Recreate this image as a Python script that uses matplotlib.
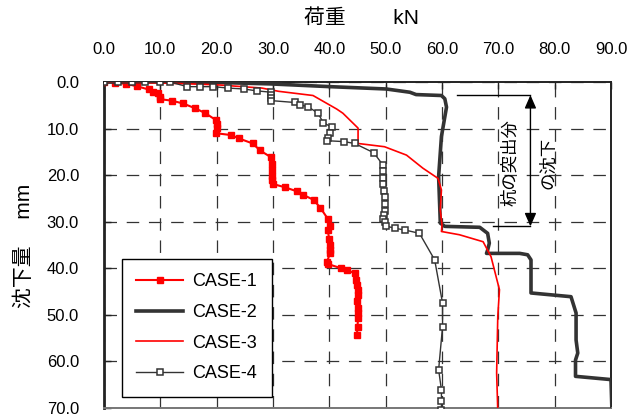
import matplotlib
matplotlib.use('Agg')
import matplotlib.pyplot as plt

plt.rcParams['font.family'] = ['Liberation Sans', 'Noto Sans CJK JP', 'DejaVu Sans']
plt.rcParams['lines.scale_dashes'] = False

# load (kN) / settlement (mm)
case1_load = [0, 2.0, 3.9, 5.8, 7.9, 8.7, 9.6, 9.9, 10.0, 12.0, 14.0, 16.1, 18.0, 19.9,
              20.0, 20.1, 19.9, 22.6, 23.9, 26.4, 27.7, 29.7, 29.8, 29.9, 29.9, 29.9, 30.0,
              32.1, 34.3, 35.3, 37.2, 38.4, 39.8, 40.1, 39.7, 40.0, 40.1, 40.2, 40.1, 39.6,
              39.8, 42.1, 43.1, 44.5, 44.8, 44.9, 45.1, 45.0, 44.9, 45.1, 45.0, 45.1, 45.0, 44.9]
case1_sett = [0, 0.15, 0.4, 0.9, 1.6, 2.1, 2.4, 3.2, 3.7, 4.0, 4.6, 5.6, 6.7, 8.2,
              9.0, 9.9, 11.0, 11.4, 12.1, 13.2, 14.7, 16.2, 17.5, 18.9, 20.2, 21.0, 21.9,
              22.6, 23.5, 24.2, 25.3, 27.0, 29.5, 31.0, 31.8, 33.8, 35.0, 36.1, 36.8, 38.6,
              39.1, 40.0, 40.3, 41.1, 42.5, 43.6, 44.6, 45.8, 47.1, 48.5, 49.6, 50.7, 52.5, 54.3]

case2_load = [0, 10.0, 20.0, 29.4, 40.1, 50.1, 54.3, 55.4, 59.9, 60.5, 60.8, 59.9, 59.4,
              59.7, 60.5, 66.7, 68.1, 68.4, 68.1, 67.9, 69.0, 73.8, 75.2, 75.8, 75.8,
              82.9, 83.8, 83.8, 84.1, 83.7, 83.7, 90.0, 90.2]
case2_sett = [0, 0.0, 0.1, 0.4, 1.0, 1.5, 2.2, 2.7, 2.9, 3.6, 5.4, 11.7, 20.3,
              30.3, 31.0, 31.2, 32.5, 34.6, 36.1, 36.8, 36.8, 36.8, 37.1, 38.2, 45.3,
              46.1, 49.6, 55.4, 58.2, 59.7, 63.2, 63.9, 72.0]

case3_load = [0, 10.0, 20.0, 28.0, 31.0, 37.1, 41.3, 42.4, 45.1, 45.1, 49.8, 53.7, 56.6,
              59.3, 59.9, 59.7, 60.0, 59.9, 63.1, 67.3, 68.7, 70.2, 69.9, 69.7, 69.9]
case3_sett = [0, 0.2, 0.6, 1.3, 2.0, 2.9, 5.8, 6.7, 9.9, 13.2, 13.9, 15.7, 18.5,
              20.7, 23.2, 27.5, 30.7, 32.1, 32.8, 34.3, 37.5, 44.6, 50.4, 62.5, 70.5]

case4_load = [0, 2.4, 4.9, 7.3, 9.9, 11.7, 14.8, 17.0, 19.4, 22.0, 24.8, 27.1, 29.7, 29.7,
              29.7, 29.7, 33.9, 34.8, 36.2, 38.0, 38.9, 40.4, 40.1, 39.8, 39.5, 42.6, 44.5,
              47.9, 49.5, 49.6, 49.6, 49.6, 49.7, 49.8, 49.8, 49.8, 49.7, 49.6, 49.8, 50.0,
              51.6, 53.5, 56.0, 58.7, 60.1, 60.1, 59.4, 59.9, 59.9, 59.9]
case4_sett = [0, 0, 0, 0, 0.07, 0, 1.0, 1.0, 1.0, 1.3, 1.5, 1.9, 2.2, 2.8,
              3.4, 4.0, 4.4, 4.9, 5.3, 6.7, 8.7, 9.7, 10.9, 12.1, 12.6, 12.8, 13.2,
              15.2, 17.8, 19.2, 20.6, 22.0, 23.4, 24.8, 26.2, 27.6, 28.5, 29.4, 30.0, 30.9,
              31.4, 31.8, 32.5, 38.2, 47.5, 52.5, 61.8, 66.1, 68.6, 70.5]

x_ticks = [0, 10, 20, 30, 40, 50, 60, 70, 80, 90]
y_ticks = [0, 10, 20, 30, 40, 50, 60, 70]

fig = plt.figure(figsize=(6.4, 4.16), dpi=100)
ax = fig.add_axes([104 / 640, 1 - 408 / 416, 507 / 640, 326 / 416])

ax.plot(case1_load, case1_sett, color='#ff0000', lw=1.5, marker='s', ms=5,
        mec='#ff0000', mfc='#ff0000', label='CASE-1', zorder=3)
ax.plot(case2_load, case2_sett, color='#333333', lw=2.6, label='CASE-2', zorder=3)
ax.plot(case3_load, case3_sett, color='#ff0000', lw=1.2, label='CASE-3', zorder=3)
ax.plot(case4_load, case4_sett, color='#333333', lw=1.0, marker='s', ms=4.5,
        mec='#333333', mfc='white', mew=1.1, label='CASE-4', zorder=4)

ax.set_xlim(0, 90)
ax.set_ylim(70, 0)
ax.set_xticks(x_ticks)
ax.set_yticks(y_ticks)
ax.set_xticklabels(['%.1f' % v for v in x_ticks])
ax.set_yticklabels(['%.1f' % v for v in y_ticks])
ax.xaxis.tick_top()
ax.tick_params(axis='both', direction='in', length=5, width=1, colors='#222222',
               labelsize=12, labelcolor='black')
ax.tick_params(axis='x', pad=18)
ax.tick_params(axis='y', pad=18)
ax.grid(True, color='#333333', lw=0.9, linestyle=(0, (9, 7)))

for side in ['left', 'top', 'right']:
    ax.spines[side].set_color('#222222')
    ax.spines[side].set_linewidth(1.4)
ax.spines['left'].set_linewidth(2.0)
ax.spines['bottom'].set_color('#777777')
ax.spines['bottom'].set_linewidth(1.4)

fig.text(361 / 640, 1 - 18 / 416, '荷重　　 kN', ha='center', va='center', fontsize=15)
fig.text(24 / 640, 1 - 246 / 416, '沈下量　 mm', ha='center', va='center',
         fontsize=15, rotation=90)

leg = ax.legend(loc='upper left', bbox_to_anchor=(0.0355, 0.457), borderaxespad=0,
                fontsize=13, numpoints=1, handlelength=2.6, handletextpad=0.5,
                labelspacing=0.75, borderpad=0.8, fancybox=False, framealpha=1,
                edgecolor='black')
leg.get_frame().set_linewidth(1.0)

# 杭の突出分の沈下 annotation
ax.plot([62.7, 75.7], [2.8, 2.8], color='black', lw=1.0, zorder=5)
ax.plot([69.0, 75.7], [31.0, 31.0], color='black', lw=1.0, zorder=5)
ax.annotate('', xy=(75.7, 2.8), xytext=(75.7, 31.0),
            arrowprops=dict(arrowstyle='<|-|>,head_length=0.8,head_width=0.35',
                            color='black', lw=1.0, shrinkA=0, shrinkB=0), zorder=5)
ax.text(72.0, 17.4, '杭の突出分', rotation=90, ha='center', va='center',
        fontsize=12.5, zorder=5)
ax.text(78.9, 17.4, 'の沈下', rotation=90, ha='center', va='center',
        fontsize=12.5, zorder=5)

fig.savefig('out.png', dpi=100)
